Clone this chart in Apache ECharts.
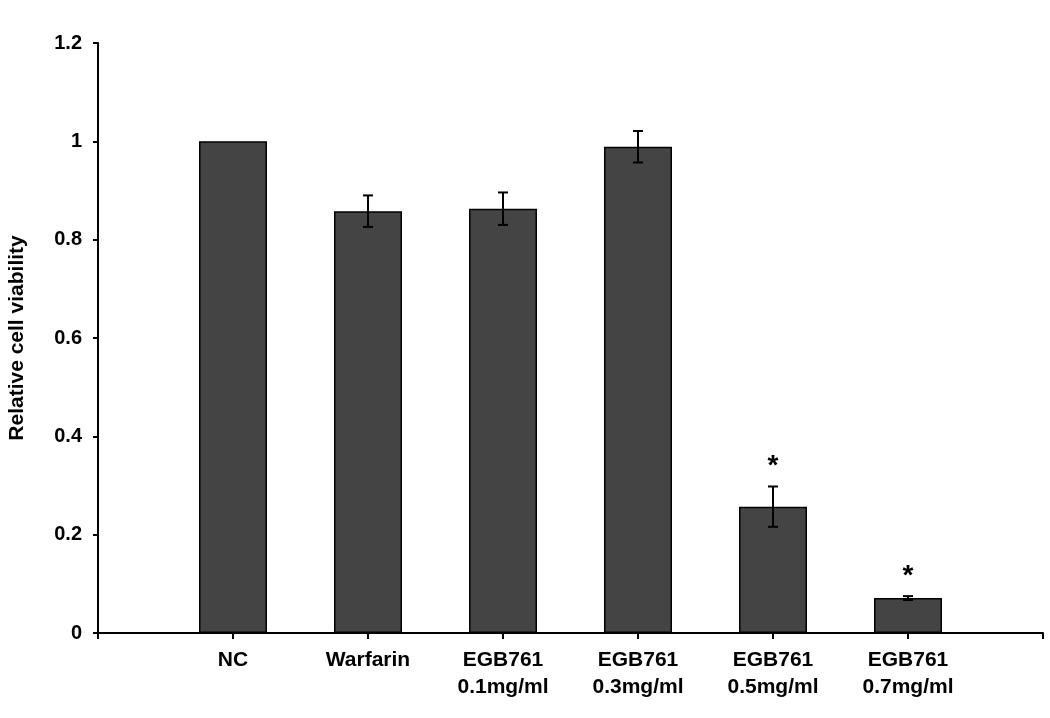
<!DOCTYPE html>
<html>
<head>
<meta charset="utf-8">
<script src="https://cdn.jsdelivr.net/npm/echarts@6/dist/echarts.min.js"></script>
<style>html,body{margin:0;padding:0;background:#fff;}#chart{width:1050px;height:718px;}</style>
</head>
<body>
<div id="chart"></div>
<script>
const categories = ['', 'NC', 'Warfarin', 'EGB761\n0.1mg/ml', 'EGB761\n0.3mg/ml', 'EGB761\n0.5mg/ml', 'EGB761\n0.7mg/ml', ''];
const means = [null, 1.0, 0.858, 0.863, 0.989, 0.257, 0.071, null];
const errors = [null, 0, 0.032, 0.033, 0.032, 0.041, 0.004, null];
const significance = ['', '', '', '', '', '*', '*', ''];
const yTicks = [0, 0.2, 0.4, 0.6, 0.8, 1, 1.2];
const yAxisTitle = 'Relative cell viability';

const FONT = '"Liberation Sans", Arial, sans-serif';
const chart = echarts.init(document.getElementById('chart'), null, {renderer: 'canvas'});

const errData = means.map((m, i) => (m == null ? [i, null, null, ''] : [i, m, errors[i], significance[i]]));

chart.setOption({
  animation: false,
  backgroundColor: '#fff',
  grid: {left: 98, right: 7, top: 43, bottom: 85, containLabel: false, outerBoundsMode: 'none'},
  xAxis: {
    type: 'category',
    data: categories,
    boundaryGap: false,
    axisLine: {show: true, lineStyle: {color: '#000', width: 2}},
    axisTick: {show: true, interval: 0, length: 6, inside: false, lineStyle: {color: '#000', width: 2}},
    axisLabel: {
      interval: 0, margin: 14, color: '#000', fontFamily: FONT, fontWeight: 'bold',
      fontSize: 21, lineHeight: 27
    },
    splitLine: {show: false}
  },
  yAxis: {
    type: 'value',
    min: yTicks[0],
    max: yTicks[yTicks.length - 1],
    interval: 0.2,
    name: yAxisTitle,
    nameLocation: 'middle',
    nameGap: 70,
    nameRotate: 90,
    nameTextStyle: {color: '#000', fontFamily: FONT, fontWeight: 'bold', fontSize: 21},
    axisLine: {show: true, lineStyle: {color: '#000', width: 2}},
    axisTick: {show: true, length: 5, inside: false, lineStyle: {color: '#000', width: 2}},
    axisLabel: {
      margin: 16, color: '#000', fontFamily: FONT, fontWeight: 'bold', fontSize: 20,
      formatter: v => String(Math.round(v * 10) / 10)
    },
    splitLine: {show: false}
  },
  series: [
    {
      type: 'bar',
      data: means,
      barWidth: 68,
      itemStyle: {color: '#444444', borderColor: '#000', borderWidth: 1.5},
      z: 2
    },
    {
      type: 'custom',
      data: errData,
      z: 3,
      renderItem: function (params, api) {
        const idx = api.value(0);
        const mean = api.value(1);
        const err = api.value(2);
        const sig = errData[params.dataIndex][3];
        if (mean == null || isNaN(mean)) return null;
        const children = [];
        const top = api.coord([idx, mean + (err || 0)]);
        if (err && err > 0) {
          const bot = api.coord([idx, mean - err]);
          const hw = 5;
          const style = {stroke: '#000', lineWidth: 2};
          children.push({type: 'line', shape: {x1: top[0], y1: top[1], x2: bot[0], y2: bot[1]}, style});
          children.push({type: 'line', shape: {x1: top[0] - hw, y1: top[1], x2: top[0] + hw, y2: top[1]}, style});
          children.push({type: 'line', shape: {x1: bot[0] - hw, y1: bot[1], x2: bot[0] + hw, y2: bot[1]}, style});
        }
        if (sig) {
          children.push({
            type: 'text',
            style: {
              text: sig, x: top[0], y: top[1] - 20,
              align: 'center', verticalAlign: 'middle',
              fill: '#000', font: 'bold 28px ' + FONT
            }
          });
        }
        return {type: 'group', children};
      }
    }
  ]
});
</script>
</body>
</html>
